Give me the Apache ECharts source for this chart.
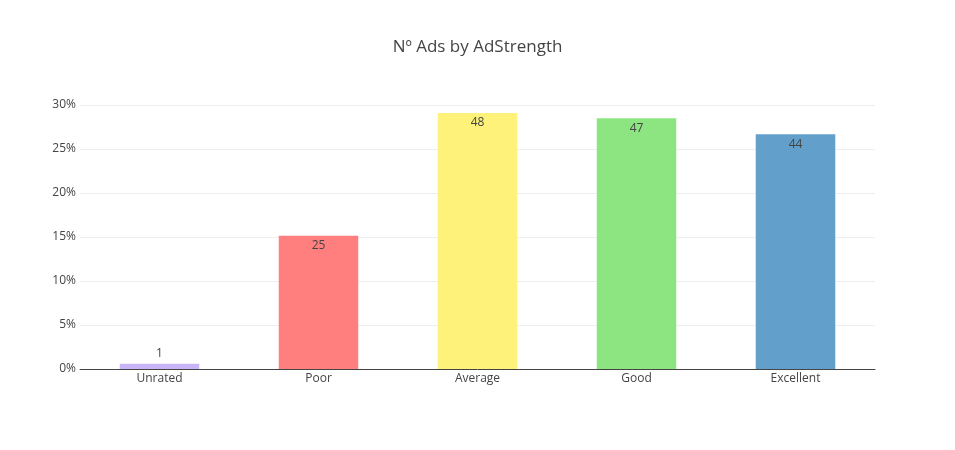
<!DOCTYPE html>
<html><head><meta charset="utf-8">
<script src="https://cdn.jsdelivr.net/npm/echarts@6/dist/echarts.min.js"></script>
<style>body{margin:0}#c{width:955px;height:450px}</style></head>
<body><div id="c"></div>
<script>
const categories = ["Unrated","Poor","Average","Good","Excellent"];
const counts = [1,25,48,47,44];
const colors = ["#c8b4f6","#ff7f7f","#fef27a","#8ce581","#62a0cb"];
const total = counts.reduce((a,b)=>a+b,0);
const chart = echarts.init(document.getElementById('c'));
chart.setOption({
  animation:false,
  title:{text:"Nº Ads by AdStrength",left:'center',top:34,textStyle:{fontFamily:'Open Sans',fontSize:17,fontWeight:'normal',color:'#444'}},
  grid:{left:80,right:80,top:105,bottom:81},
  xAxis:{type:'category',data:categories,axisTick:{show:false},
    axisLine:{lineStyle:{color:'#444',width:1}},
    axisLabel:{color:'#444',fontFamily:'Open Sans',fontSize:12,margin:4}},
  yAxis:{type:'value',min:0,max:30,interval:5,
    axisLabel:{formatter:'{value}%',color:'#444',fontFamily:'Open Sans',fontSize:12,margin:4},
    splitLine:{lineStyle:{color:'#eee'}}},
  series:[{type:'bar',barWidth:'50%',
    data:counts.map((c,i)=>({value:c/total*100,count:c,itemStyle:{color:colors[i]},
      label:{position:c/total*100>5?'insideTop':'top'}})),
    label:{show:true,color:'#444',fontFamily:'Open Sans',fontSize:12,distance:4,
      formatter:p=>p.data.count}}]
});
</script></body></html>
